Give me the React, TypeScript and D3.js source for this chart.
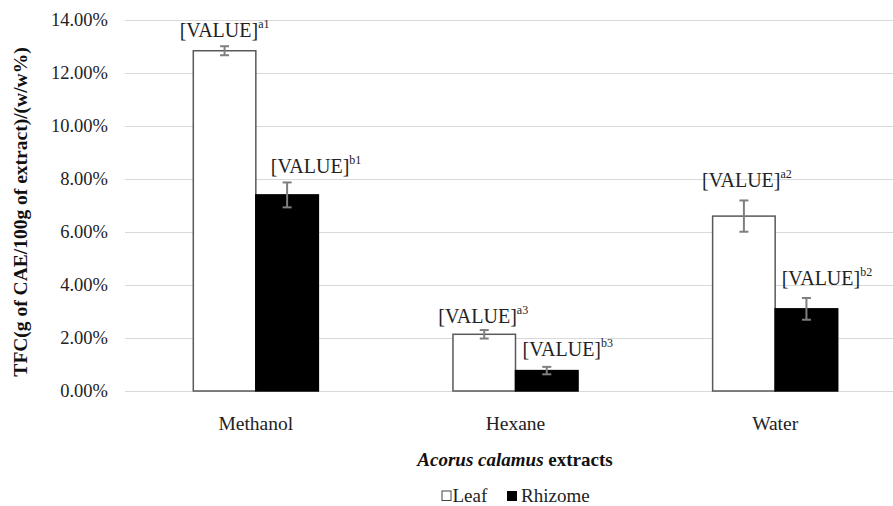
import React from "react";
import * as d3 from "d3";

const categories = ["Methanol", "Hexane", "Water"];
const seriesNames = ["Leaf", "Rhizome"];
const leafValues = [12.84, 2.14, 6.6];
const leafErrors = [0.17, 0.16, 0.59];
const rhizomeValues = [7.4, 0.77, 3.1];
const rhizomeErrors = [0.47, 0.14, 0.41];
const leafLetters = ["a1", "a3", "a2"];
const rhizomeLetters = ["b1", "b3", "b2"];
const yTicks = [0, 2, 4, 6, 8, 10, 12, 14];

// label placement (layout): offset from bar center, offset from bar top
const leafLabelShift = [[0, -13.4], [-1, -11.6], [3, -28.7]];
const rhizomeLabelShift = [[29, -22.3], [21, -14.7], [20.5, -23.7]];

const W = 893;
const H = 506;
const FONT = "Liberation Serif, Tinos, Times New Roman, DejaVu Serif, serif";

export default function App() {
  const y = d3.scaleLinear().domain([0, 14]).range([391, 20]);
  const x0 = d3.scaleBand().domain(categories).range([126, 905]).paddingInner(0).paddingOuter(0);
  const x1 = d3.scaleBand().domain(seriesNames).range([0, x0.bandwidth()]).paddingInner(0).paddingOuter(1.076);
  const fmt = (v: number) => v.toFixed(2) + "%";

  const series = [
    { name: "Leaf", values: leafValues, errors: leafErrors, letters: leafLetters, shift: leafLabelShift, fill: "#ffffff", stroke: "#595959" },
    { name: "Rhizome", values: rhizomeValues, errors: rhizomeErrors, letters: rhizomeLetters, shift: rhizomeLabelShift, fill: "#000000", stroke: "#000000" },
  ];

  return (
    <svg width={W} height={H} style={{ position: "absolute", left: 0, top: 0, background: "#fff", fontFamily: FONT }}>
      {yTicks.map((t) => (
        <line key={"g" + t} x1={125} x2={W} y1={Math.round(y(t)) + 0.5} y2={Math.round(y(t)) + 0.5} stroke="#d9d9d9" strokeWidth={1} />
      ))}
      {yTicks.map((t) => (
        <text key={"t" + t} x={108} y={y(t)} dy="0.33em" textAnchor="end" fontSize={18.5} fill="#222">
          {fmt(t)}
        </text>
      ))}
      {series.map((s) =>
        categories.map((c, i) => {
          const bx = (x0(c) as number) + (x1(s.name) as number);
          const bw = x1.bandwidth();
          const top = y(s.values[i]);
          return (
            <rect key={s.name + c} x={bx} y={top} width={bw} height={y(0) - top} fill={s.fill} stroke={s.stroke} strokeWidth={1.5} />
          );
        })
      )}
      {series.map((s) =>
        categories.map((c, i) => {
          const cx = (x0(c) as number) + (x1(s.name) as number) + x1.bandwidth() / 2;
          const hi = y(s.values[i] + s.errors[i]);
          const lo = y(s.values[i] - s.errors[i]);
          return (
            <g key={"e" + s.name + c} stroke="#7f7f7f" strokeWidth={2}>
              <line x1={cx} x2={cx} y1={hi} y2={lo} />
              <line x1={cx - 4.5} x2={cx + 4.5} y1={hi} y2={hi} />
              <line x1={cx - 4.5} x2={cx + 4.5} y1={lo} y2={lo} />
            </g>
          );
        })
      )}
      {series.map((s) =>
        categories.map((c, i) => {
          const cx = (x0(c) as number) + (x1(s.name) as number) + x1.bandwidth() / 2;
          const top = y(s.values[i]);
          return (
            <text key={"l" + s.name + c} x={cx + s.shift[i][0]} y={top + s.shift[i][1]} textAnchor="middle" fontSize={20} fill="#222">
              <tspan>[VALUE]</tspan>
              <tspan fontSize={12} dy={-9}>{s.letters[i]}</tspan>
            </text>
          );
        })
      )}
      {categories.map((c) => (
        <text key={"c" + c} x={(x0(c) as number) + x0.bandwidth() / 2} y={429.5} textAnchor="middle" fontSize={19.5} fill="#222">
          {c}
        </text>
      ))}
      <text transform="translate(27,212) rotate(-90)" textAnchor="middle" fontSize={19.5} fontWeight="bold" fill="#111">
        TFC(g of CAE/100g of extract)/(w/w%)
      </text>
      <text x={515} y={466} textAnchor="middle" fontSize={19} fontWeight="bold" fill="#111">
        <tspan fontStyle="italic">Acorus calamus</tspan>
        <tspan> extracts</tspan>
      </text>
      <g fontSize={19} fill="#222">
        <rect x={442} y={491} width={9} height={9.5} fill="#fff" stroke="#444" strokeWidth={1} />
        <text x={452.5} y={501.5}>{seriesNames[0]}</text>
        <rect x={507} y={491} width={10} height={10} fill="#000" />
        <text x={521} y={501.5}>{seriesNames[1]}</text>
      </g>
    </svg>
  );
}
